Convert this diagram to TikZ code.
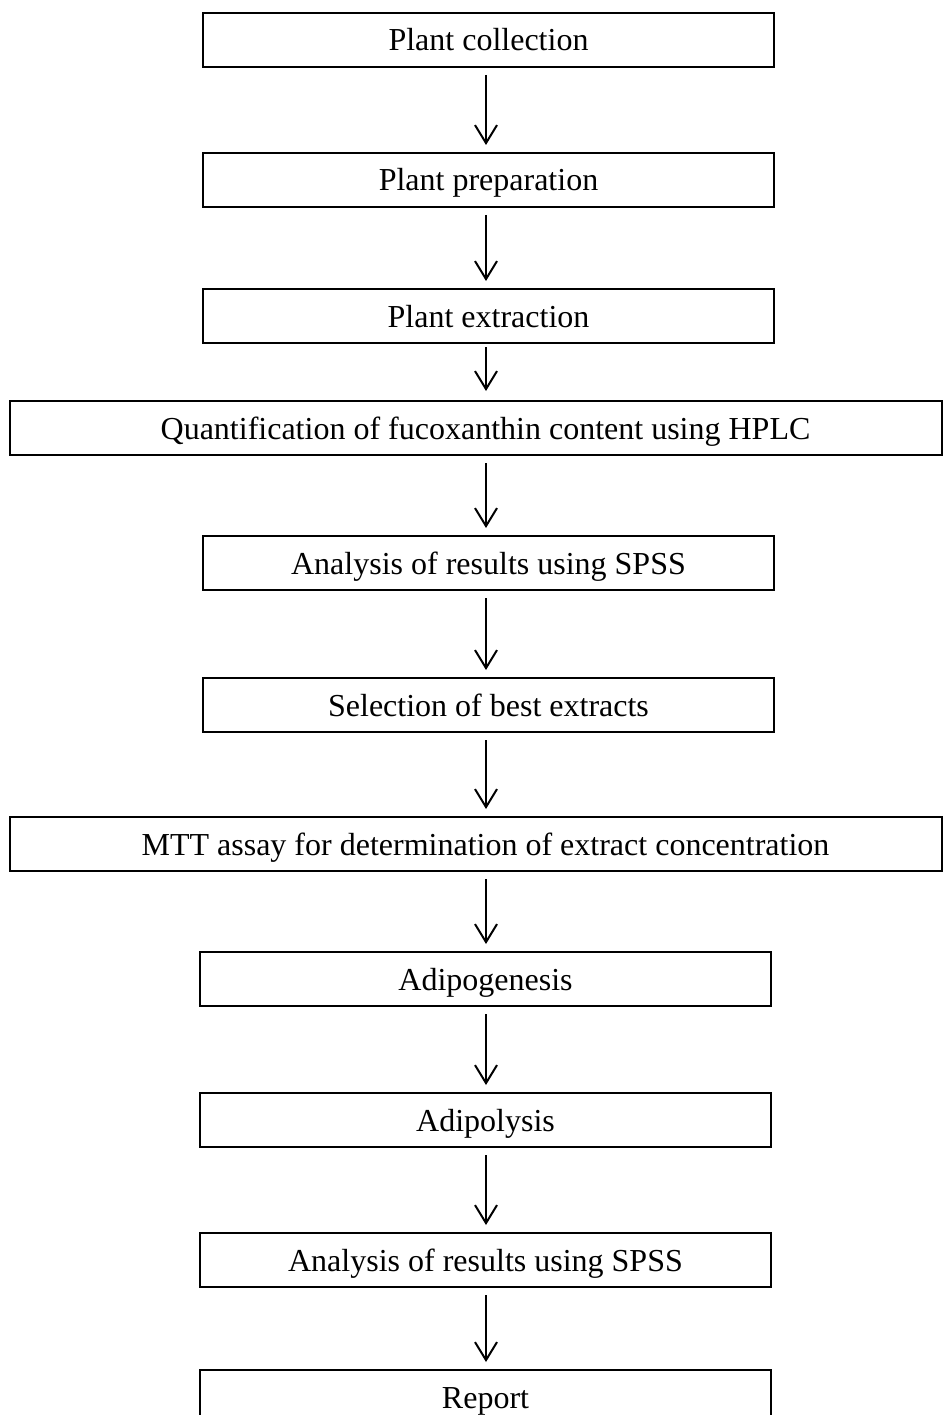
\documentclass[tikz,border=0pt]{standalone}
\usepackage{fontspec}
\setmainfont{Liberation Serif}
\usepackage{tikz}
\usetikzlibrary{arrows.meta, positioning}
\tikzset{
    stagebox/.style={rectangle, draw=black, line width=2pt, fill=white,
                     minimum width=571pt, minimum height=54pt, inner sep=0pt, outer sep=0pt,
                     text height=26pt, text depth=4pt,
                     font=\fontsize{32}{38}\selectfont},
    widebox/.style={stagebox, minimum width=932pt, execute at begin node={\hspace*{19pt}}},
    flowarrow/.style={-{Straight Barb[length=18pt, width=22pt]}, line width=2pt,
                      draw=black, shorten <=8pt, shorten >=8pt},
}

\begin{document}
\begin{tikzpicture}[x=1pt, y=1pt]
    \useasboundingbox (0,0) rectangle (948,-1415);
    \coordinate (spine) at (486,0);

    % Extraction stages
    \node[stagebox] (collect) at (488.5,-40) {Plant collection};
    \node[stagebox, below=86pt of collect] (prep) {Plant preparation};
    \node[stagebox, below=82pt of prep] (extract) {Plant extraction};
    \node[widebox, below=58pt of extract, xshift=-12.5pt] (hplc) {Quantification of fucoxanthin content using HPLC};
    \node[stagebox, below=81pt of hplc, xshift=12.5pt] (spss) {Analysis of results using SPSS};
    \node[stagebox, below=88pt of spss] (select) {Selection of best extracts};

    % Cell assays
    \node[widebox, below=85pt of select, xshift=-12.5pt] (mtt) {MTT assay for determination of extract concentration};
    \node[stagebox, below=81pt of mtt, xshift=9.5pt] (genesis) {Adipogenesis};
    \node[stagebox, below=87pt of genesis] (lysis) {Adipolysis};
    \node[stagebox, below=86pt of lysis] (spsstwo) {Analysis of results using SPSS};
    \node[stagebox, below=83pt of spsstwo] (report) {Report};

    % Arrows
    \draw[flowarrow] (collect.south -| spine) -- (prep.north -| spine);
    \draw[flowarrow] (prep.south -| spine) -- (extract.north -| spine);
    \draw[flowarrow, shorten <=4pt, shorten >=10pt] (extract.south -| spine) -- (hplc.north -| spine);
    \draw[flowarrow] (hplc.south -| spine) -- (spss.north -| spine);
    \draw[flowarrow] (spss.south -| spine) -- (select.north -| spine);
    \draw[flowarrow] (select.south -| spine) -- (mtt.north -| spine);
    \draw[flowarrow] (mtt.south -| spine) -- (genesis.north -| spine);
    \draw[flowarrow] (genesis.south -| spine) -- (lysis.north -| spine);
    \draw[flowarrow] (lysis.south -| spine) -- (spsstwo.north -| spine);
    \draw[flowarrow] (spsstwo.south -| spine) -- (report.north -| spine);
\end{tikzpicture}
\end{document}
